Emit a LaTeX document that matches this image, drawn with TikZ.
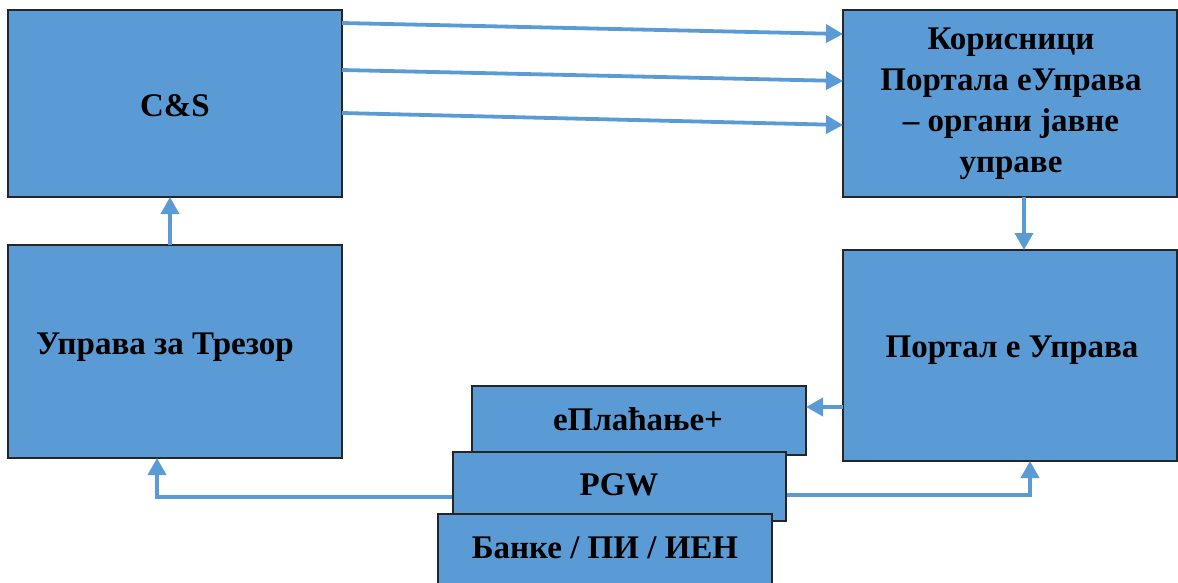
\documentclass[tikz,border=0pt]{standalone}
\usepackage{fontspec}
\setmainfont{Liberation Serif}
\usetikzlibrary{arrows.meta}
\definecolor{boxblue}{HTML}{5B9BD5}
\tikzset{
  blk/.style={draw=black!85, line width=1.1pt, fill=boxblue},
  lbl/.style={font=\fontsize{33}{41}\selectfont\bfseries, align=center, text=black},
  conn/.style={draw=boxblue, line width=3.8pt, -{Triangle[length=17pt,width=18pt]}}
}
\begin{document}
\begin{tikzpicture}[x=1pt,y=-1pt]
\useasboundingbox (0,0) rectangle (1178,582);
\clip (0,0) rectangle (1178,582);
% boxes
\draw[blk] (8,10) rectangle (342,197);
\node[lbl] (cs) at (175,106) {C\&S};
\coordinate (csE1) at (342,23);
\coordinate (csE2) at (342,70);
\coordinate (csE3) at (342,113);
\coordinate (csS) at (170,197);

\draw[blk] (843,10) rectangle (1177,197);
\node[lbl] (kor) at (1011,104) {Корисници\\Портала еУправа\\– органи јавне\\управе};
\coordinate (korW1) at (843,34);
\coordinate (korW2) at (843,81);
\coordinate (korW3) at (843,125);
\coordinate (korS) at (1024,197);

\draw[blk] (8,245) rectangle (342,458);
\node[lbl] (tr) at (165,347) {Управа за Трезор};
\coordinate (trN) at (170,245);
\coordinate (trS) at (157,458);

\draw[blk] (843,250) rectangle (1177,461);
\node[lbl] (po) at (1012,350) {Портал е Управа};
\coordinate (poN) at (1024,250);
\coordinate (poW) at (843,407);
\coordinate (poS) at (1030,461);

% arrows
\draw[conn] (csE1) -- (korW1);
\draw[conn] (csE2) -- (korW2);
\draw[conn] (csE3) -- (korW3);
\draw[conn] (trN) -- (csS);
\draw[conn] (korS) -- (poN);
\coordinate (pgwW) at (453,497);
\coordinate (pgwE) at (786,495);
\draw[conn] (pgwW) -| (trS);
\draw[conn] (pgwE) -| (poS);

% stacked boxes
\draw[blk] (472,386) rectangle (806,455);
\node[lbl] (ep) at (638,419) {еПлаћање+};
\coordinate (epE) at (806,407);
\draw[conn] (poW) -- (epE);
\draw[blk] (453,452) rectangle (786,521);
\node[lbl] (pgw) at (619,485) {PGW};
\draw[blk] (438,514) rectangle (772,590);
\node[lbl] (bk) at (605,548) {Банке / ПИ / ИЕН};
\end{tikzpicture}
\end{document}
